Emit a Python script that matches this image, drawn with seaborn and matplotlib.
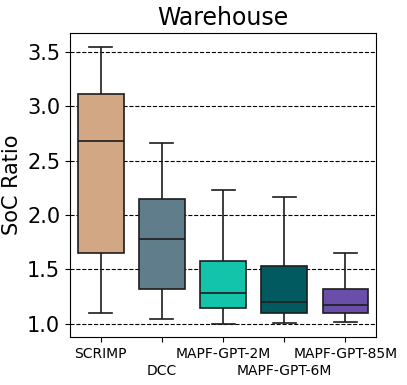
import numpy as np
import pandas as pd
import seaborn as sns
import matplotlib
matplotlib.use("Agg")
import matplotlib.pyplot as plt

methods = ["SCRIMP", "DCC", "MAPF-GPT-2M", "MAPF-GPT-6M", "MAPF-GPT-85M"]
# five-number summaries: low whisker, Q1, median, Q3, high whisker
scrimp = [1.10, 1.65, 2.68, 3.11, 3.55]
dcc = [1.04, 1.32, 1.78, 2.15, 2.66]
gpt2m = [1.00, 1.15, 1.28, 1.58, 2.23]
gpt6m = [1.01, 1.10, 1.20, 1.53, 2.17]
gpt85m = [1.02, 1.10, 1.17, 1.32, 1.65]
colors = ["#D2A783", "#607D8B", "#13C3AA", "#005A60", "#6A4FAA"]
title = "Warehouse"
ylabel = "SoC Ratio"

rows = []
for m, vals in zip(methods, [scrimp, dcc, gpt2m, gpt6m, gpt85m]):
    for v in vals:
        rows.append({"method": m, "ratio": v})
df = pd.DataFrame(rows)

fig = plt.figure(figsize=(4.07, 3.85), dpi=100)
ax = fig.add_axes([0.172, 0.125, 0.752, 0.789])
sns.boxplot(data=df, x="method", y="ratio", hue="method", order=methods,
            palette=colors, saturation=1, whis=(0, 100), width=0.75, ax=ax,
            legend=False, linewidth=1.2)
ax.set_axisbelow(True)
ax.yaxis.grid(True, linestyle="--", color="black", linewidth=0.8)
ax.set_ylim(0.88, 3.674)
ax.set_yticks([1.0, 1.5, 2.0, 2.5, 3.0, 3.5])
ax.tick_params(axis="y", labelsize=15)
ax.set_xticks(range(len(methods)))
ax.set_xticklabels(methods, fontsize=10)
for i, tick in enumerate(ax.xaxis.get_major_ticks()):
    if i % 2 == 1:
        tick.set_pad(3.5 + 12.5)
ax.set_xlabel("")
ax.set_ylabel(ylabel, fontsize=15)
ax.set_title(title, fontsize=17)
fig.savefig("out.png", dpi=100)
